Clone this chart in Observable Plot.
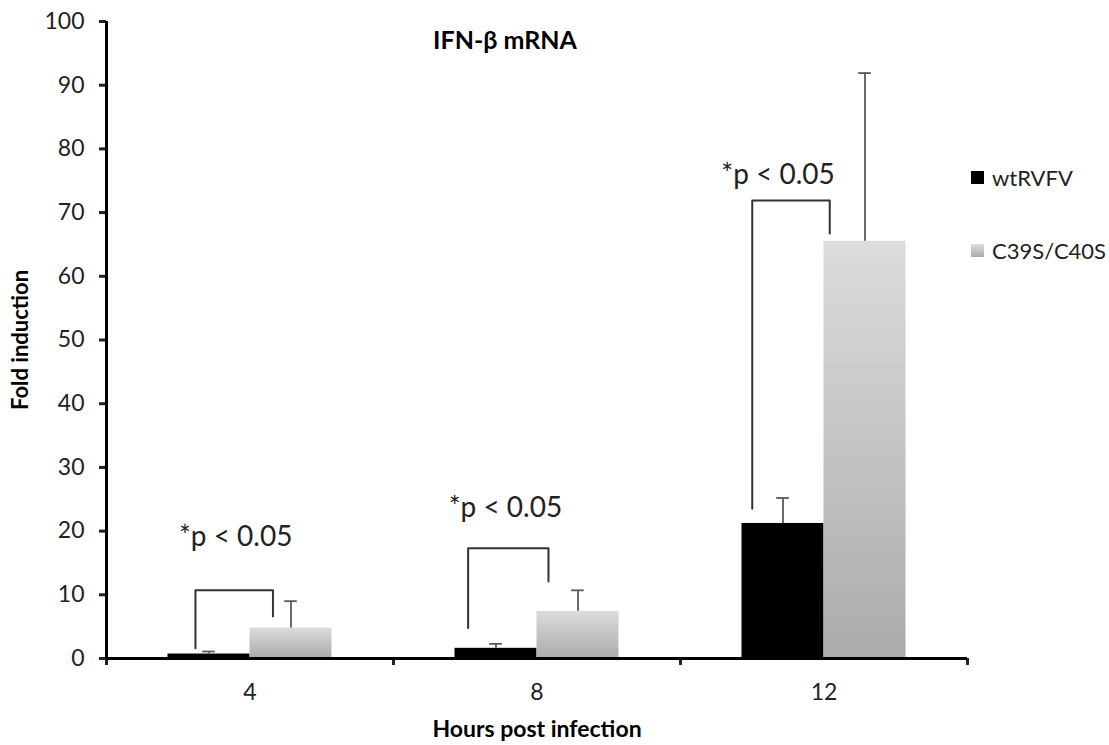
<!DOCTYPE html>
<html><head><meta charset="utf-8">
<script src="https://cdn.jsdelivr.net/npm/d3@7"></script>
<script src="https://cdn.jsdelivr.net/npm/@observablehq/plot@0.6"></script>
<style>
body{margin:0;background:#fff;}
#chart{position:relative;width:1109px;height:745px;font-family:Lato,sans-serif;}
#legend{position:absolute;left:971px;top:165px;font-family:Lato,sans-serif;font-size:22px;color:#222;}
#legend .item{display:flex;align-items:center;height:24px;margin-bottom:49px;}
#legend .sw{width:13px;height:13px;margin-right:8px;}
</style>
</head><body><div id="chart"><div id="legend"></div></div>
<script>
// ---- data ----
const hours = ["4", "8", "12"];
const series = ["wtRVFV", "C39S/C40S"];
const wtMean = [0.7, 1.6, 21.2];
const wtErr = [0.4, 0.7, 4.0];
const mutMean = [4.8, 7.4, 65.5];
const mutErr = [4.2, 3.3, 26.4];
const yTicks = [0, 10, 20, 30, 40, 50, 60, 70, 80, 90, 100];
const sigText = ["*p < 0.05", "*p < 0.05", "*p < 0.05"];
const sigY = [19.0, 23.6, 75.9];
const sigXOffset = [0.45, 0.39, 0.34];
const bracketTop = [10.7, 17.3, 71.9];
const bracketLeftBottom = [1.6, 4.8, 23.5];
const bracketRightBottom = [6.6, 12.1, 66.7];
const bracketLeftOffset = [0.31, 0.26, 0.25];
const bracketRightOffset = [0.58, 0.54, 0.52];
const titleText = "IFN-β mRNA";
const xLabel = "Hours post infection";
const yLabel = "Fold induction";

// ---- layout helpers (group i spans [i, i+1] on x) ----
const barW = 2 / 7;
const capHalf = 0.022;
const rows = [];
hours.forEach((h, i) => {
  rows.push({hour: h, series: series[0], x1: i + 0.5 - barW, x2: i + 0.5, xc: i + 0.5 - barW / 2, value: wtMean[i], top: wtMean[i] + wtErr[i]});
  rows.push({hour: h, series: series[1], x1: i + 0.5, x2: i + 0.5 + barW, xc: i + 0.5 + barW / 2, value: mutMean[i], top: mutMean[i] + mutErr[i]});
});
const wtRows = rows.filter(d => d.series === series[0]);
const mutRows = rows.filter(d => d.series === series[1]);
const bracketPts = hours.flatMap((h, i) => [
  {g: h, x: i + bracketLeftOffset[i], y: bracketLeftBottom[i]},
  {g: h, x: i + bracketLeftOffset[i], y: bracketTop[i]},
  {g: h, x: i + bracketRightOffset[i], y: bracketTop[i]},
  {g: h, x: i + bracketRightOffset[i], y: bracketRightBottom[i]}
]);
const sigRows = hours.map((h, i) => ({x: i + sigXOffset[i], y: sigY[i], t: sigText[i]}));

const plot = Plot.plot({
  width: 1109,
  height: 745,
  marginLeft: 106,
  marginRight: 142,
  marginTop: 21,
  marginBottom: 87,
  style: {fontFamily: "Lato, sans-serif", background: "#fff", color: "#222"},
  x: {domain: [0, hours.length], axis: null},
  y: {domain: [0, 100], axis: null},
  marks: [
    Plot.rectY(wtRows, {x1: "x1", x2: "x2", y1: 0, y2: "value", fill: "#000"}),
    Plot.rectY(mutRows, {x1: "x1", x2: "x2", y1: 0, y2: "value", fill: "url(#grayGrad)"}),
    Plot.ruleX(rows, {x: "xc", y1: "value", y2: "top", stroke: "#5a5a5a", strokeWidth: 1.8}),
    Plot.ruleY(rows, {y: "top", x1: d => d.xc - capHalf, x2: d => d.xc + capHalf, stroke: "#5a5a5a", strokeWidth: 1.8}),
    Plot.line(bracketPts, {x: "x", y: "y", z: "g", stroke: "#333", strokeWidth: 2}),
    Plot.text(sigRows, {x: "x", y: "y", text: "t", fontSize: 28, fill: "#222", textAnchor: "middle", lineAnchor: "middle"}),
    // axes
    Plot.axisY({ticks: yTicks, tickSize: 7, tickPadding: 15, fontSize: 23, strokeWidth: 3, label: null, tickFormat: d => String(d)}),
    Plot.axisX({ticks: [0, 1, 2, 3], tickSize: 7, tickFormat: () => "", strokeWidth: 3, label: null}),
    Plot.ruleX([0], {y1: 0, y2: 100, stroke: "#000", strokeWidth: 3}),
    Plot.ruleY([0], {x1: 0, x2: hours.length, stroke: "#000", strokeWidth: 3}),
    Plot.text(hours, {x: (d, i) => i + 0.5, y: 0, dy: 34, text: d => d, fontSize: 23, fill: "#222", lineAnchor: "middle"}),
    // titles
    Plot.text([titleText], {frameAnchor: "top", dx: -32, dy: 19, textAnchor: "middle", lineAnchor: "middle", fontSize: 25, fontWeight: "bold", fill: "#000"}),
    Plot.text([xLabel], {frameAnchor: "bottom", dy: 71, textAnchor: "middle", lineAnchor: "middle", fontSize: 23, fontWeight: "bold", fill: "#000"}),
    Plot.text([yLabel], {frameAnchor: "left", dx: -86, dy: 0, rotate: -90, textAnchor: "middle", lineAnchor: "middle", fontSize: 22, fontWeight: "bold", fill: "#000"})
  ]
});

// gradient for the C39S/C40S bars
const ns = "http://www.w3.org/2000/svg";
const defs = document.createElementNS(ns, "defs");
defs.innerHTML = '<linearGradient id="grayGrad" x1="0" y1="0" x2="0" y2="1"><stop offset="0%" stop-color="#dcdcdc"/><stop offset="100%" stop-color="#ababab"/></linearGradient>';
plot.insertBefore(defs, plot.firstChild);
document.getElementById("chart").prepend(plot);

// legend
const legendFill = ["#000", "linear-gradient(#dcdcdc,#ababab)"];
const legend = document.getElementById("legend");
series.forEach((s, i) => {
  const item = document.createElement("div");
  item.className = "item";
  const sw = document.createElement("span");
  sw.className = "sw";
  sw.style.background = legendFill[i];
  const t = document.createElement("span");
  t.textContent = s;
  item.append(sw, t);
  legend.append(item);
});
</script>
</body></html>
